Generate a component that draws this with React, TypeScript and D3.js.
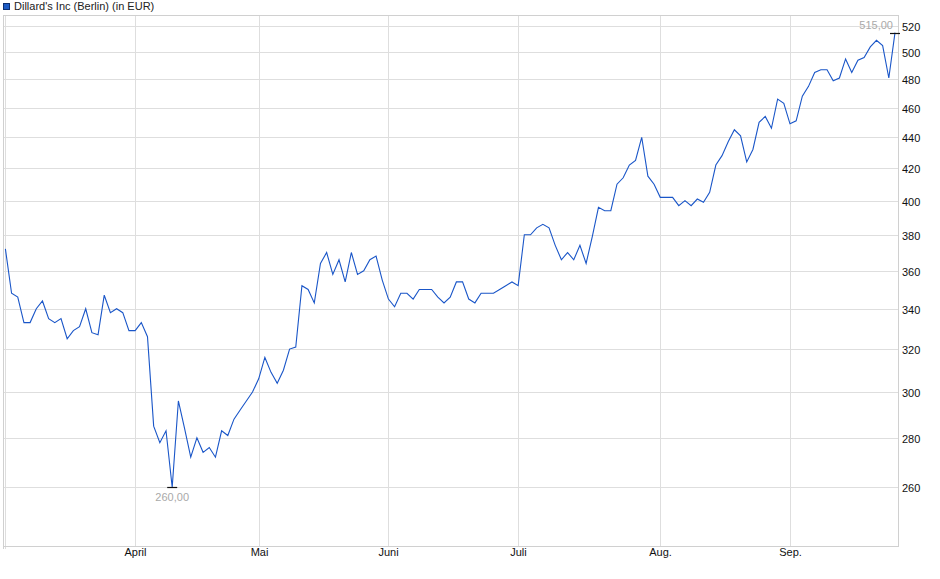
import React, { useRef, useEffect } from 'react';
import * as d3 from 'd3';

// closing prices, one per trading day (March .. September)
const prices: number[] = [
  372, 348, 346, 333, 333, 340, 344, 335, 333, 335, 325, 329, 331, 340, 328, 327, 347, 338, 340, 338, 329, 329, 333, 326,
  285, 278, 283, 260, 296, 284, 272, 280, 274, 276, 272, 283, 281, 288, 292, 296, 300, 306, 316, 309, 304,
  310, 320, 321, 352, 350, 343, 364, 370, 358, 366, 354, 370, 358, 360, 366, 368, 355, 345, 341, 348, 348,
  345, 350, 350, 350, 346, 343, 346, 354, 354, 345, 343, 348, 348, 348, 350, 352, 354, 352, 380, 380, 384, 386, 384, 374,
  366, 370, 366, 374, 364, 379, 396, 394, 394, 410, 414, 422, 425, 440, 415, 410, 402, 402, 402, 397, 400, 397, 401, 399, 405,
  422, 428, 437, 445, 441, 424, 432, 450, 454, 446, 466, 463, 449, 451, 468, 475, 485, 487, 487, 479, 481, 495, 485, 494, 496, 504, 509, 505, 481, 515,
];

// first trading day of each month (index into prices)
const monthStarts: number[] = [0, 21, 41, 62, 83, 106, 127];
const monthLabels: string[] = ['', 'April', 'Mai', 'Juni', 'Juli', 'Aug.', 'Sep.'];

const yTicks: number[] = [260, 280, 300, 320, 340, 360, 380, 400, 420, 440, 460, 480, 500, 520];

const title = "Dillard's Inc (Berlin) (in EUR)";
const font = '"Liberation Sans", Arial, sans-serif';

const App: React.FC = () => {
  const svgRef = useRef<SVGSVGElement>(null);

  useEffect(() => {
    if (!svgRef.current) return;
    const svg = d3.select(svgRef.current);
    svg.selectAll('*').remove();

    const width = 940;
    const height = 579;
    const plot = { left: 4, right: 898, top: 16, bottom: 546 };

    svg.attr('width', width).attr('height', height);

    const xScale = d3.scaleLinear()
      .domain([0, prices.length - 1])
      .range([5.4, 895]);

    const yScale = d3.scaleLog()
      .domain([238, 528])
      .range([plot.bottom, plot.top]);

    // legend
    svg.append('rect')
      .attr('x', 3.5).attr('y', 3.5).attr('width', 6).attr('height', 6)
      .attr('fill', '#1d5bc4').attr('stroke', '#0d2f70').attr('stroke-width', 1);
    svg.append('text')
      .attr('x', 14).attr('y', 10)
      .attr('font-family', font).attr('font-size', 11).attr('fill', '#222')
      .text(title);

    const g = svg.append('g');

    // horizontal grid + right axis
    yTicks.forEach(v => {
      const y = Math.round(yScale(v)) + 0.5;
      g.append('line')
        .attr('x1', plot.left).attr('x2', plot.right)
        .attr('y1', y).attr('y2', y)
        .attr('stroke', '#dedede');
      g.append('text')
        .attr('x', plot.right + 4).attr('y', y + 4)
        .attr('font-family', font).attr('font-size', 11).attr('fill', '#111')
        .text(v);
    });

    // vertical grid + month labels
    monthStarts.forEach((idx, i) => {
      const x = Math.round(xScale(idx)) + 0.5;
      g.append('line')
        .attr('x1', x).attr('x2', x)
        .attr('y1', plot.top).attr('y2', i === 0 ? plot.bottom + 3 : plot.bottom)
        .attr('stroke', '#dedede');
      if (monthLabels[i]) {
        g.append('text')
          .attr('x', x).attr('y', 556)
          .attr('text-anchor', 'middle')
          .attr('font-family', font).attr('font-size', 11).attr('fill', '#111')
          .text(monthLabels[i]);
      }
    });

    // frame
    g.append('rect')
      .attr('x', plot.left - 0.5).attr('y', plot.top - 0.5)
      .attr('width', plot.right - plot.left + 1).attr('height', plot.bottom - plot.top + 1)
      .attr('fill', 'none').attr('stroke', '#d0d0d0');
    g.append('line')
      .attr('x1', plot.left - 0.5).attr('x2', plot.left - 0.5)
      .attr('y1', plot.bottom).attr('y2', plot.bottom + 3)
      .attr('stroke', '#d0d0d0');

    // price line
    const line = d3.line<number>()
      .x((_, i) => xScale(i))
      .y(d => yScale(d));

    g.append('path')
      .datum(prices)
      .attr('d', line)
      .attr('fill', 'none')
      .attr('stroke', '#1a56c8')
      .attr('stroke-width', 1.1);

    // min / max markers
    const minIdx = d3.minIndex(prices);
    const maxIdx = d3.maxIndex(prices);
    const fmt = (v: number) => v.toFixed(2).replace('.', ',');

    const marker = (idx: number) => {
      const x = xScale(idx);
      const y = Math.round(yScale(prices[idx])) + 0.5;
      g.append('line')
        .attr('x1', x - 5).attr('x2', x + 5)
        .attr('y1', y).attr('y2', y)
        .attr('stroke', '#111').attr('stroke-width', 1.2);
    };
    marker(minIdx);
    marker(maxIdx);

    g.append('text')
      .attr('x', xScale(minIdx)).attr('y', yScale(prices[minIdx]) + 14)
      .attr('text-anchor', 'middle')
      .attr('font-family', font).attr('font-size', 11).attr('fill', '#a9a9a9')
      .text(fmt(prices[minIdx]));

    g.append('text')
      .attr('x', xScale(maxIdx) - 2).attr('y', yScale(prices[maxIdx]) - 4)
      .attr('text-anchor', 'end')
      .attr('font-family', font).attr('font-size', 11).attr('fill', '#a9a9a9')
      .text(fmt(prices[maxIdx]));
  }, []);

  return (
    <div style={{ position: 'absolute', left: 0, top: 0, background: '#fff' }}>
      <svg ref={svgRef} style={{ display: 'block' }}></svg>
    </div>
  );
};

export default App;
